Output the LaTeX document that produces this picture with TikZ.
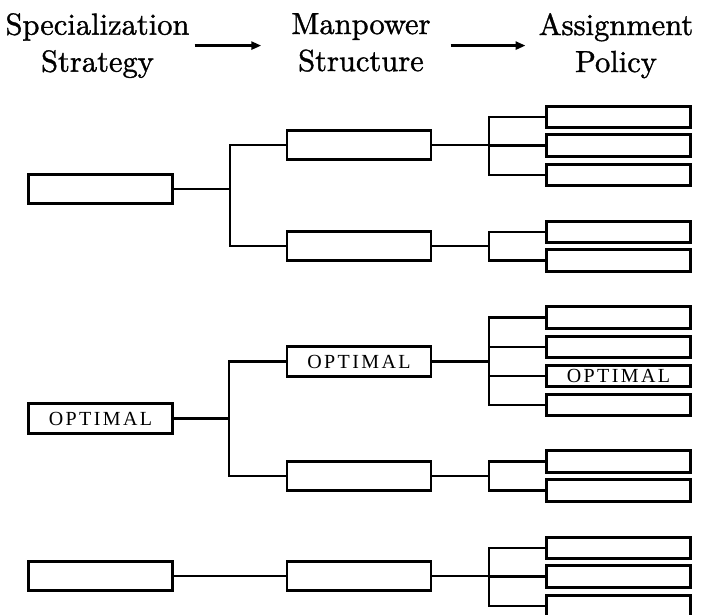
\documentclass[tikz,border=0pt]{standalone}
\usepackage{fontspec}
\newfontfamily\headfont{lmroman10-regular}[Extension=.otf, FakeBold=1.2]
\newfontfamily\optfont[LetterSpace=12]{Liberation Serif}
\usetikzlibrary{arrows.meta}
\begin{document}
\begin{tikzpicture}[x=1pt, y=-1pt,
  heading/.style={inner sep=0pt, anchor=north, align=center,
    font=\headfont\fontsize{30.5}{37}\selectfont},
  stagebox/.style={draw, line width=2.7pt, minimum width=144pt,
    minimum height=29.5pt, inner sep=0pt, font=\optfont\fontsize{20}{20}\selectfont},
  policybox/.style={stagebox, minimum height=21.5pt},
  link/.style={line width=2.5pt},
  flow/.style={line width=3pt, -{Triangle[length=10pt,width=8pt]}}]
\useasboundingbox (0,0) rectangle (701,615);

% column headings
\node[heading] (hA) at (97.5,13) {Specialization\\Strategy};
\node[heading] (hB) at (361,13) {Manpower\\Structure};
\node[heading] (hC) at (616,13) {Assignment\\Policy};
\draw[flow, shorten <=5pt, shorten >=30pt] (hA.east) -- (hA.east -| hB.west);
\draw[flow, shorten <=20pt, shorten >=13pt] (hB.east |- hA.east) -- (hA.east -| hC.west);

% specialization strategies
\node[stagebox] (L1) at (100.5,189) {};
\node[stagebox] (L2) at (100.5,418.5) {OPTIMAL};
\node[stagebox] (L3) at (100.5,576) {};

% manpower structures
\node[stagebox] (M1) at (359,145) {};
\node[stagebox] (M2) at (359,246) {};
\node[stagebox] (M3) at (359,361.5) {OPTIMAL};
\node[stagebox] (M4) at (359,476) {};
\node[stagebox] (M5) at (359,576) {};

% assignment policies
\node[policybox] (ra1) at (618.5,117) {};
\node[policybox] (ra2) at (618.5,145.5) {};
\node[policybox] (ra3) at (618.5,175) {};
\node[policybox] (rb1) at (618.5,232) {};
\node[policybox] (rb2) at (618.5,260.5) {};
\node[policybox] (rc1) at (618.5,317.5) {};
\node[policybox] (rc2) at (618.5,347) {};
\node[policybox] (rc3) at (618.5,376) {OPTIMAL};
\node[policybox] (rc4) at (618.5,405) {};
\node[policybox] (rd1) at (618.5,461.5) {};
\node[policybox] (rd2) at (618.5,490.5) {};
\node[policybox] (re1) at (618.5,548) {};
\node[policybox] (re2) at (618.5,576.5) {};
\node[policybox] (re3) at (618.5,606) {};

% branch points
\coordinate (ka) at (230,189);
\coordinate (kb) at (229,418.5);
\coordinate (ja) at (489,145);
\coordinate (jb) at (489,246);
\coordinate (jc) at (489,361.5);
\coordinate (jd) at (489,476);
\coordinate (je) at (489,576);

% strategy -> structure
\draw[link] (L1.east) -- (L1.east -| ka);
\draw[link] (M1.west) -| (ka) |- (M2.west);
\draw[link] (L2.east) -- (L2.east -| kb);
\draw[link] (M3.west) -| (kb) |- (M4.west);
\draw[link] (L3.east) -- (M5.west);

% structure -> policy
\draw[link] (M1.east) -- (M1.east -| ja);
\draw[link] (ra1.west) -| (ja) |- (ra3.west);
\draw[link] (ja |- ra2.west) -- (ra2.west);

\draw[link] (M2.east) -- (M2.east -| jb);
\draw[link] (rb1.west) -| (jb) |- (rb2.west);

\draw[link] (M3.east) -- (M3.east -| jc);
\draw[link] (rc1.west) -| (jc) |- (rc4.west);
\draw[link] (jc |- rc2.west) -- (rc2.west);
\draw[link] (jc |- rc3.west) -- (rc3.west);

\draw[link] (M4.east) -- (M4.east -| jd);
\draw[link] (rd1.west) -| (jd) |- (rd2.west);

\draw[link] (M5.east) -- (M5.east -| je);
\draw[link] (re1.west) -| (je) |- (re3.west);
\draw[link] (je |- re2.west) -- (re2.west);
\end{tikzpicture}
\end{document}
